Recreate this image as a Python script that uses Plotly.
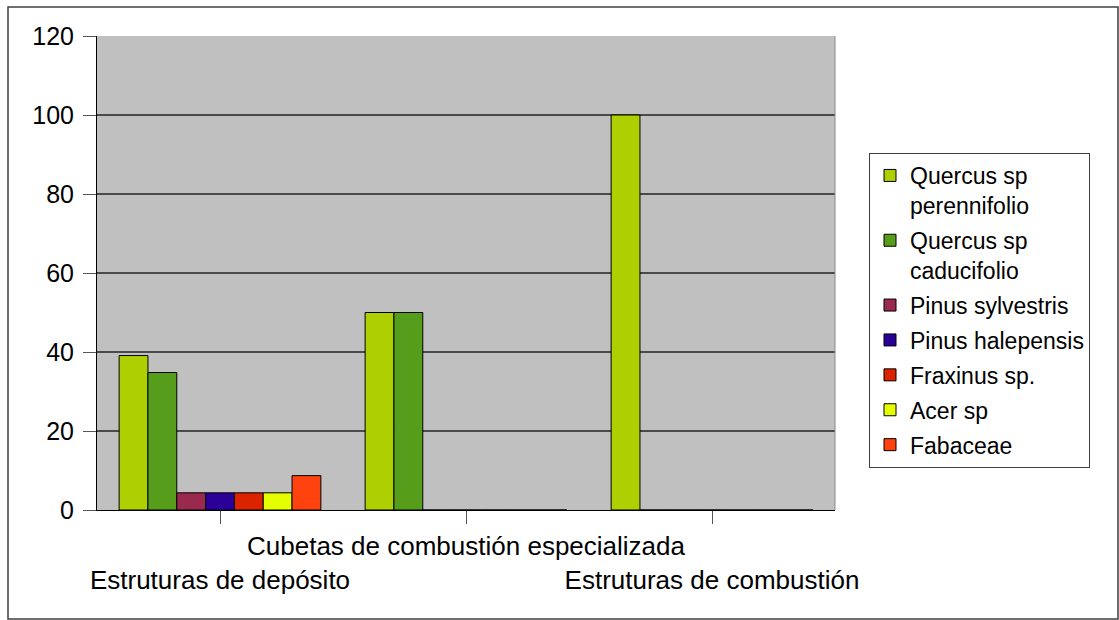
import plotly.graph_objects as go

# Share of charcoal taxa (%) in each type of structure
categories = ["Estruturas de depósito", "Cubetas de combustión especializada", "Estruturas de combustión"]
series_names = [
    "Quercus sp<br>perennifolio",
    "Quercus sp<br>caducifolio",
    "Pinus sylvestris",
    "Pinus halepensis",
    "Fraxinus sp.",
    "Acer sp",
    "Fabaceae",
]
series_values = [
    [39.1, 50, 100],
    [34.8, 50, 0],
    [4.35, 0, 0],
    [4.35, 0, 0],
    [4.35, 0, 0],
    [4.35, 0, 0],
    [8.7, 0, 0],
]
series_colors = ["#AECF00", "#579D1C", "#992A4D", "#2A0099", "#DC2300", "#E6FF00", "#FF420E"]
y_ticks = [0, 20, 40, 60, 80, 100, 120]

FONT = "Liberation Sans, Arial, sans-serif"

fig = go.Figure()
for i, (name, vals, col) in enumerate(zip(series_names, series_values, series_colors)):
    fig.add_trace(go.Bar(
        x=categories, y=vals, name=name, legendgroup=f"g{i}",
        marker=dict(color=col, line=dict(color="#000000", width=1)),
    ))

# staggered category labels: outer categories drop to a second line
tick_text = [("<br>" + c) if i % 2 == 0 else c for i, c in enumerate(categories)]

W, H = 1119, 620
L, R, T, B = 97, 835, 36, 510

fig.update_layout(
    width=W, height=H,
    margin=dict(l=L, r=W - R, t=T, b=H - B, pad=0, autoexpand=False),
    paper_bgcolor="#FFFFFF",
    plot_bgcolor="#C0C0C0",
    barmode="group",
    bargap=0.18,
    bargroupgap=0,
    font=dict(family=FONT, size=24, color="#000000"),
    showlegend=True,
    legend=dict(
        x=(869 - L) / (R - L), xanchor="left",
        y=(B - 153) / (B - T), yanchor="top",
        bgcolor="#FFFFFF", bordercolor="#404040", borderwidth=1,
        font=dict(family=FONT, size=23, color="#000000"),
        valign="top",
        traceorder="grouped",
        tracegroupgap=2,
    ),
    xaxis=dict(
        tickmode="array", tickvals=categories, ticktext=tick_text,
        tickangle=0, automargin=False,
        ticks="outside", ticklen=13, tickcolor="#555555", tickwidth=1,
        showline=True, linecolor="#000000", linewidth=1,
        showgrid=False, zeroline=False,
        tickfont=dict(family=FONT, size=26, color="#000000"),
    ),
    yaxis=dict(
        range=[0, 120], tickmode="array", tickvals=y_ticks,
        automargin=False, ticklabelstandoff=4,
        ticks="outside", ticklen=13, tickcolor="#555555", tickwidth=1,
        showline=True, linecolor="#000000", linewidth=1,
        showgrid=True, gridcolor="#4A4A4A", gridwidth=1.5,
        zeroline=False,
        tickfont=dict(family=FONT, size=25, color="#000000"),
    ),
    shapes=[
        # right edge of the plotting area
        dict(type="line", xref="paper", yref="paper", x0=1, x1=1, y0=0, y1=1,
             line=dict(color="#8A8A8A", width=1)),
        # outer frame of the chart
        dict(type="rect", xref="paper", yref="paper",
             x0=(8 - L) / (R - L), x1=(1118 - L) / (R - L),
             y0=(B - 619) / (B - T), y1=(B - 7) / (B - T),
             line=dict(color="#404040", width=1.5), fillcolor="rgba(0,0,0,0)"),
    ],
)

fig.write_html("out.html")
